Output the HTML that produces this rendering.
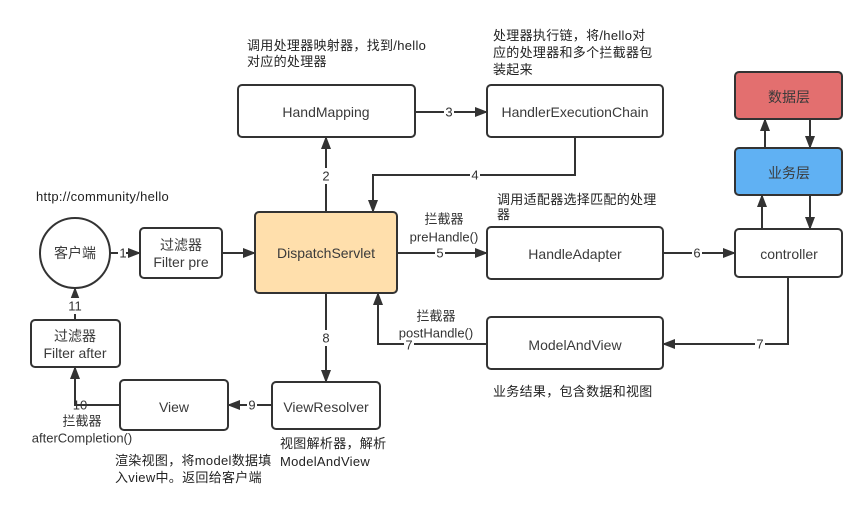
<!DOCTYPE html>
<html><head><meta charset="utf-8"><style>
html,body{margin:0;padding:0;background:#fff;}
svg{display:block;font-family:"Liberation Sans","Noto Sans CJK SC",sans-serif;}
.n{font-size:14px;fill:#3a3a3a;text-anchor:middle;dominant-baseline:central;}
.t{font-size:13px;fill:#222;letter-spacing:0.3px;}
.l{font-size:13px;fill:#333;text-anchor:middle;dominant-baseline:central;}
.b{fill:#fff;stroke:#333;stroke-width:2;}
.e{fill:none;stroke:#333;stroke-width:2;}
</style></head><body>
<svg width="866" height="530" viewBox="0 0 866 530" xmlns="http://www.w3.org/2000/svg">
<defs><marker id="a" markerWidth="13" markerHeight="10" refX="12" refY="5" orient="auto" markerUnits="userSpaceOnUse"><path d="M0,0L13,5L0,10z" fill="#333"/></marker></defs>

<path class="e" d="M110,253H140" marker-end="url(#a)"/>
<path class="e" d="M222,253H255" marker-end="url(#a)"/>
<path class="e" d="M326,212V137" marker-end="url(#a)"/>
<path class="e" d="M415,112H487" marker-end="url(#a)"/>
<path class="e" d="M575,137V175H373V212" marker-end="url(#a)"/>
<path class="e" d="M397,253H487" marker-end="url(#a)"/>
<path class="e" d="M663,253H735" marker-end="url(#a)"/>
<path class="e" d="M762,229V195" marker-end="url(#a)"/>
<path class="e" d="M810,195V229" marker-end="url(#a)"/>
<path class="e" d="M765,148V119" marker-end="url(#a)"/>
<path class="e" d="M810,119V148" marker-end="url(#a)"/>
<path class="e" d="M788,277V344H663" marker-end="url(#a)"/>
<path class="e" d="M487,344H378V293" marker-end="url(#a)"/>
<path class="e" d="M326,293V382" marker-end="url(#a)"/>
<path class="e" d="M272,405H228" marker-end="url(#a)"/>
<path class="e" d="M120,405H75V367" marker-end="url(#a)"/>
<path class="e" d="M75,320V288" marker-end="url(#a)"/>

<circle class="b" cx="75" cy="253" r="35"/><text class="n" x="75" y="253">客户端</text>
<rect class="b" x="140" y="228" width="82" height="50" rx="4"/><text class="n" x="181" y="245">过滤器</text><text class="n" x="181" y="262">Filter pre</text>
<rect x="255" y="212" width="142" height="81" rx="4" fill="#ffdfac" stroke="#333" stroke-width="2"/><text class="n" x="326" y="253">DispatchServlet</text>
<rect class="b" x="238" y="85" width="177" height="52" rx="4"/><text class="n" x="326" y="112">HandMapping</text>
<rect class="b" x="487" y="85" width="176" height="52" rx="4"/><text class="n" x="575" y="112">HandlerExecutionChain</text>
<rect class="b" x="487" y="227" width="176" height="52" rx="4"/><text class="n" x="575" y="254">HandleAdapter</text>
<rect class="b" x="487" y="317" width="176" height="52" rx="4"/><text class="n" x="575" y="345">ModelAndView</text>
<rect class="b" x="735" y="229" width="107" height="48" rx="4"/><text class="n" x="789" y="254">controller</text>
<rect x="735" y="148" width="107" height="47" rx="4" fill="#60b1f3" stroke="#333" stroke-width="2"/><text class="n" x="789" y="173">业务层</text>
<rect x="735" y="72" width="107" height="47" rx="4" fill="#e36f6f" stroke="#333" stroke-width="2"/><text class="n" x="789" y="97">数据层</text>
<rect class="b" x="31" y="320" width="89" height="47" rx="4"/><text class="n" x="75" y="336">过滤器</text><text class="n" x="75" y="353">Filter after</text>
<rect class="b" x="120" y="380" width="108" height="50" rx="4"/><text class="n" x="174" y="407">View</text>
<rect class="b" x="272" y="382" width="108" height="47" rx="4"/><text class="n" x="326" y="407">ViewResolver</text>

<g>
<rect x="118" y="245" width="8" height="16" fill="#fff"/><text class="l" x="123" y="253">1</text>
<rect x="321" y="168" width="10" height="16" fill="#fff"/><text class="l" x="326" y="176">2</text>
<rect x="444" y="104" width="10" height="16" fill="#fff"/><text class="l" x="449" y="112">3</text>
<rect x="470" y="167" width="10" height="16" fill="#fff"/><text class="l" x="475" y="175">4</text>
<rect x="435" y="245" width="10" height="16" fill="#fff"/><text class="l" x="440" y="253">5</text>
<rect x="692" y="245" width="10" height="16" fill="#fff"/><text class="l" x="697" y="253">6</text>
<rect x="755" y="336" width="10" height="16" fill="#fff"/><text class="l" x="760" y="344">7</text>
<rect x="404" y="336" width="10" height="16" fill="#fff"/><text class="l" x="409" y="345">7</text>
<rect x="321" y="330" width="10" height="16" fill="#fff"/><text class="l" x="326" y="338">8</text>
<rect x="247" y="397" width="10" height="16" fill="#fff"/><text class="l" x="252" y="405">9</text>
<text class="l" x="80" y="405">10</text>
<rect x="66" y="298" width="18" height="16" fill="#fff"/><text class="l" x="75" y="306">11</text>
</g>

<text class="t" x="36" y="201">http://community/hello</text>
<text class="t" x="247" y="50">调用处理器映射器，找到/hello</text>
<text class="t" x="247" y="66">对应的处理器</text>
<text class="t" x="493" y="40">处理器执行链，将/hello对</text>
<text class="t" x="493" y="57">应的处理器和多个拦截器包</text>
<text class="t" x="493" y="74">装起来</text>
<text class="t" x="497" y="204">调用适配器选择匹配的处理</text>
<text class="t" x="497" y="219">器</text>
<text class="l" x="444" y="219">拦截器</text>
<text class="l" x="444" y="237">preHandle()</text>
<text class="l" x="436" y="316">拦截器</text>
<text class="l" x="436" y="333">postHandle()</text>
<text class="t" x="493" y="396">业务结果，包含数据和视图</text>
<text class="l" x="82" y="421">拦截器</text>
<text class="l" x="82" y="438">afterCompletion()</text>
<text class="t" x="280" y="448">视图解析器，解析</text>
<text class="t" x="280" y="466">ModelAndView</text>
<text class="t" x="115" y="465">渲染视图，将model数据填</text>
<text class="t" x="115" y="482">入view中。返回给客户端</text>
</svg>
</body></html>
